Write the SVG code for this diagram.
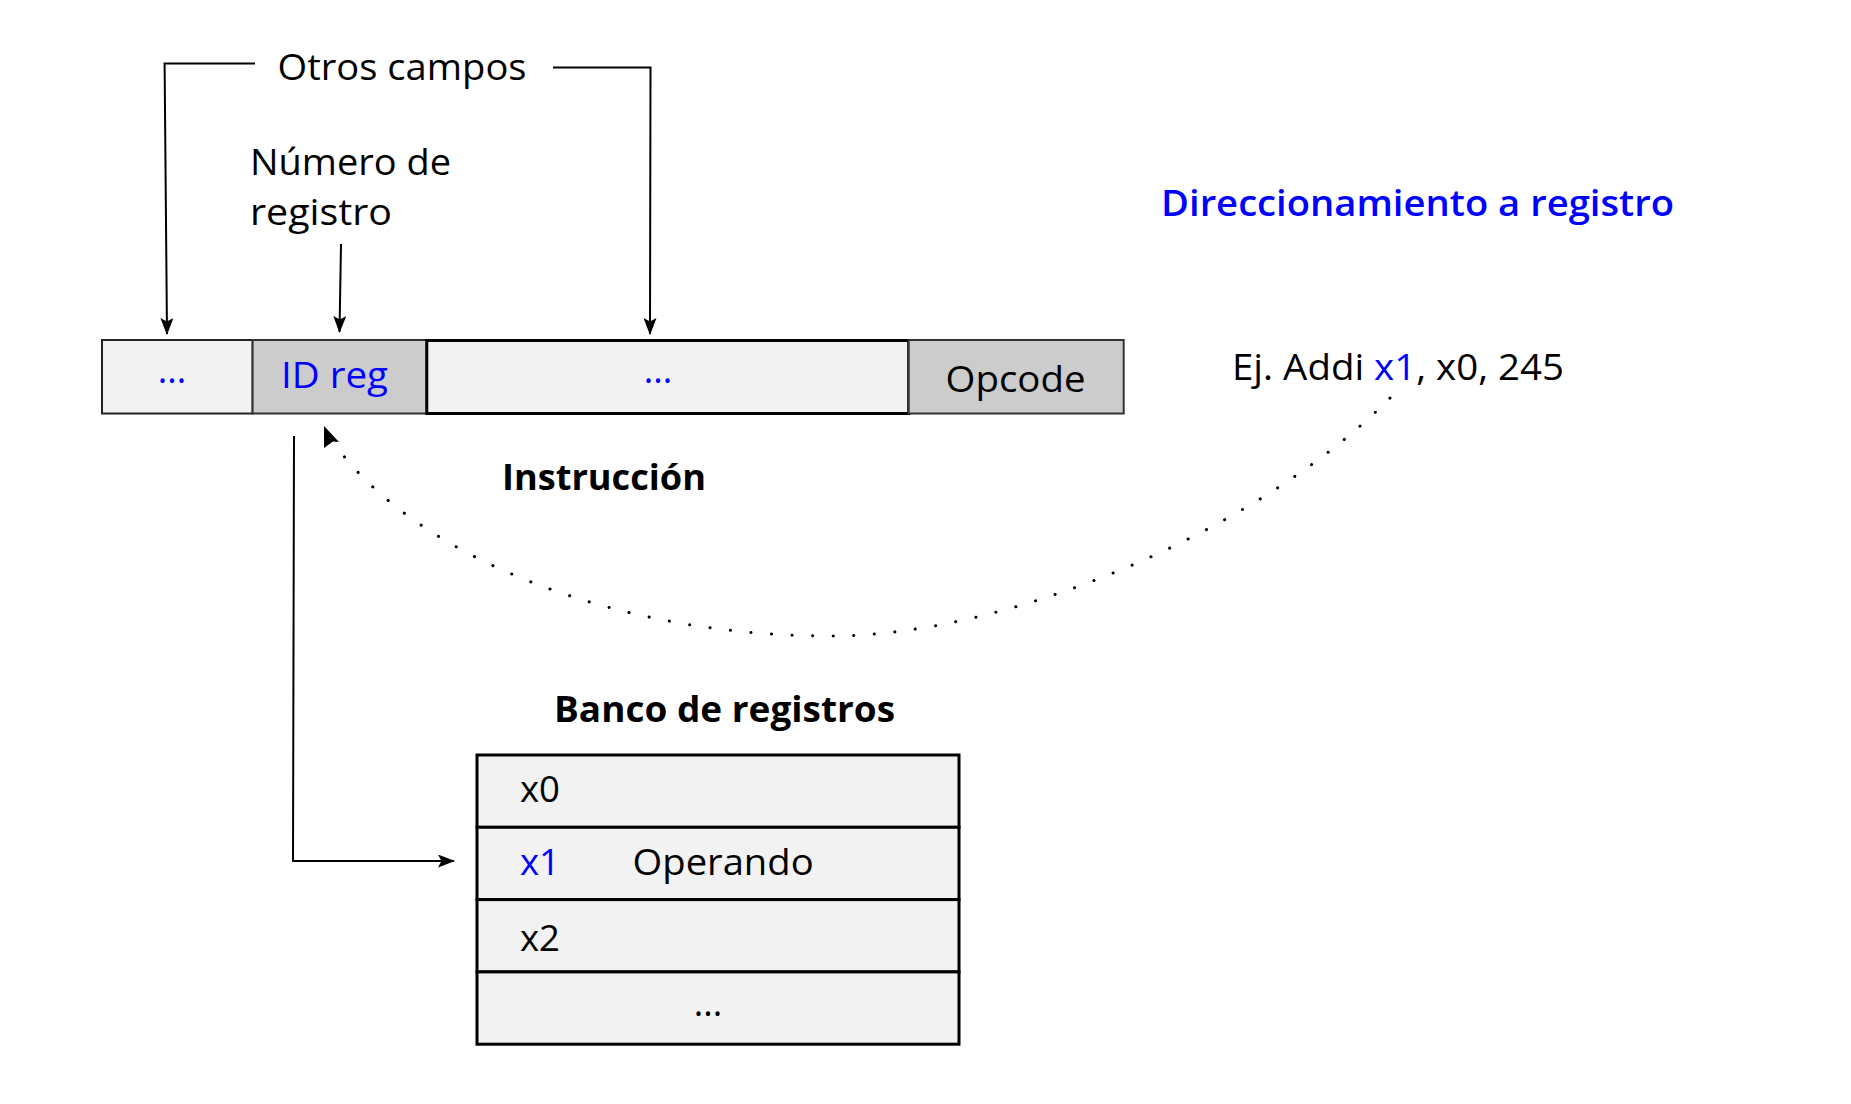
<svg xmlns="http://www.w3.org/2000/svg" width="1851" height="1104" viewBox="0 0 1851 1104">
<defs>
<style>
text{font-family:"Open Sans","Noto Sans","DejaVu Sans",sans-serif;font-size:36px;fill:#000}
.blue{fill:#0000ff}
.b{font-weight:bold}
.conn{fill:none;stroke:#000;stroke-width:2}
.dot{fill:none;stroke:#000;stroke-width:3;stroke-linecap:round;stroke-dasharray:0.1 20.5}
.light{fill:#f2f2f2;stroke:#222;stroke-width:2}
.dark{fill:#cccccc;stroke:#333;stroke-width:2}
.thick{fill:#f2f2f2;stroke:#000;stroke-width:3}
</style>
<marker id="arr" viewBox="0 0 17 13" refX="16" refY="6.5" markerWidth="17" markerHeight="13" markerUnits="userSpaceOnUse" orient="auto">
<path d="M0,0 L17,6.5 L0,13 L3.5,6.5 z" fill="#000"/>
</marker>
</defs>
<rect width="1851" height="1104" fill="#fff"/>
<g id="connectors">
<path class="conn" d="M255,63.5 L164.6,63.5 L167,334" marker-end="url(#arr)"/>
<path class="conn" d="M553,67.5 L650.5,67.5 L650,334" marker-end="url(#arr)"/>
<path class="conn" d="M341,244 L339.5,332" marker-end="url(#arr)"/>
<path class="conn" d="M294,436 L293,861 L454,861" marker-end="url(#arr)"/>
<path class="dot" d="M1390,398 C1260,530 1010,636 830,636 C620,636 420,560 336,446"/>
<path d="M324,426 L339,442 L333,441.5 L324,448 z" fill="#000"/>
</g>
<g id="label-otros"><text x="277.5" y="80" textLength="249" lengthAdjust="spacingAndGlyphs">Otros campos</text></g>
<g id="label-numero">
<text x="250" y="175" textLength="201" lengthAdjust="spacingAndGlyphs">Número de</text>
<text x="250" y="225" textLength="142" lengthAdjust="spacingAndGlyphs">registro</text>
</g>
<g id="title"><text class="blue" x="1161" y="216" textLength="513" lengthAdjust="spacingAndGlyphs" font-weight="600">Direccionamiento a registro</text></g>
<g id="example"><text x="1232" y="380" textLength="332" lengthAdjust="spacingAndGlyphs">Ej. Addi <tspan class="blue">x1</tspan>, x0, 245</text></g>
<g id="field-left"><rect class="light" x="102" y="340" width="150.6" height="73.5"/><text class="blue" x="172" y="383" text-anchor="middle">...</text></g>
<g id="field-idreg"><rect class="dark" x="252.6" y="340" width="174.2" height="73.5"/><text class="blue" x="281" y="388" textLength="107" lengthAdjust="spacingAndGlyphs">ID reg</text></g>
<g id="field-mid"><rect class="thick" x="426.8" y="340.5" width="481.9" height="73"/><text class="blue" x="658" y="383" text-anchor="middle">...</text></g>
<g id="field-opcode"><rect class="dark" x="908.7" y="340" width="215" height="73.5"/><text x="945.5" y="392" textLength="140" lengthAdjust="spacingAndGlyphs">Opcode</text></g>
<g id="label-instr"><text class="b" x="502" y="490" textLength="204" lengthAdjust="spacingAndGlyphs">Instrucción</text></g>
<g id="label-banco"><text class="b" x="554" y="722" textLength="341" lengthAdjust="spacingAndGlyphs">Banco de registros</text></g>
<g id="reg-x0"><rect class="thick" x="477" y="755" width="482" height="72.3"/><text x="520" y="802" textLength="40" lengthAdjust="spacingAndGlyphs">x0</text></g>
<g id="reg-x1"><rect class="thick" x="477" y="827.3" width="482" height="72.3"/><text class="blue" x="520" y="875" textLength="40" lengthAdjust="spacingAndGlyphs">x1</text><text x="632.6" y="875" textLength="181" lengthAdjust="spacingAndGlyphs">Operando</text></g>
<g id="reg-x2"><rect class="thick" x="477" y="899.6" width="482" height="72.3"/><text x="520" y="951" textLength="40" lengthAdjust="spacingAndGlyphs">x2</text></g>
<g id="reg-more"><rect class="thick" x="477" y="971.9" width="482" height="72.3"/><text x="708" y="1016" text-anchor="middle">...</text></g>
</svg>
